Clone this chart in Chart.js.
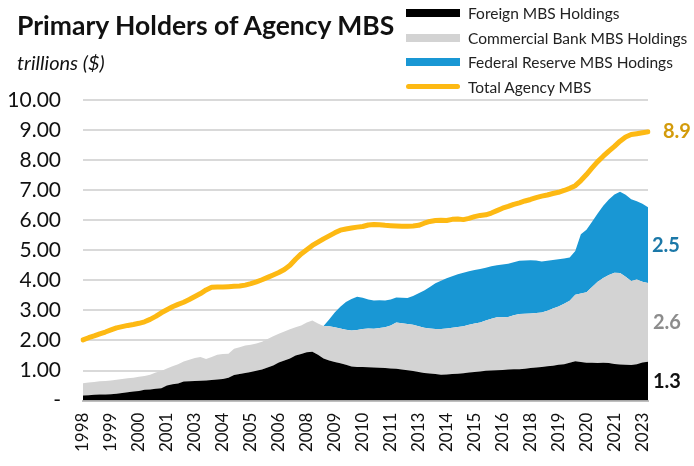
<!DOCTYPE html>
<html>
<head>
<meta charset="utf-8">
<script src="https://cdn.jsdelivr.net/npm/chart.js@4"></script>
<style>
  html, body { margin: 0; padding: 0; background: #fff; }
  #wrap { position: relative; width: 694px; height: 466px; font-family: Lato, sans-serif; color: #111; }
  #title { position: absolute; left: 17px; top: 9px; font-size: 26.5px; font-weight: 700; }
  #sub { position: absolute; left: 17px; top: 50px; font-size: 20px; font-style: italic; }
  #legend { position: absolute; left: 406px; top: 1px; font-size: 15.5px; color: #222; }
  .item { height: 24.5px; display: flex; align-items: center; }
  .sw { width: 54px; height: 8px; margin-right: 8px; }
  .ln { width: 54px; height: 5px; border-radius: 3px; margin-right: 8px; }
  canvas { position: absolute; left: 0; top: 0; }
</style>
</head>
<body>
<div id="wrap">
  <canvas id="c" width="694" height="466"></canvas>
  <div id="title">Primary Holders of Agency MBS</div>
  <div id="sub">trillions ($)</div>
  <div id="legend">
    <div class="item"><div class="sw" style="background:#000"></div>Foreign MBS Holdings</div>
    <div class="item"><div class="sw" style="background:#d3d3d3"></div>Commercial Bank MBS Holdings</div>
    <div class="item"><div class="sw" style="background:#1997d4"></div>Federal Reserve MBS Hodings</div>
    <div class="item"><div class="ln" style="background:#fdb913"></div>Total Agency MBS</div>
  </div>
</div>
<script>
// quarterly, 1998Q1 .. 2023Q2
const quarters = [];
for (let y = 1998; y <= 2023; y++) for (let q = 1; q <= 4; q++) quarters.push(y + "Q" + q);
quarters.length = 102;

const foreign = [0.17,0.18,0.19,0.20,0.20,0.21,0.23,0.25,0.28,0.30,
  0.32,0.36,0.37,0.39,0.41,0.50,0.54,0.57,0.63,0.64,
  0.65,0.66,0.67,0.68,0.70,0.72,0.76,0.85,0.88,0.92,
  0.95,0.99,1.03,1.10,1.17,1.27,1.33,1.40,1.50,1.55,
  1.61,1.62,1.52,1.40,1.33,1.28,1.24,1.19,1.13,1.12,
  1.12,1.11,1.10,1.09,1.08,1.07,1.06,1.03,1.01,0.98,
  0.95,0.92,0.90,0.88,0.86,0.87,0.88,0.89,0.91,0.93,
  0.95,0.97,0.99,1.00,1.01,1.02,1.03,1.04,1.04,1.06,
  1.08,1.10,1.12,1.14,1.16,1.19,1.21,1.26,1.31,1.28,
  1.26,1.26,1.25,1.26,1.25,1.22,1.20,1.19,1.18,1.21,
  1.27,1.29];

const bank = [0.41,0.42,0.43,0.44,0.45,0.46,0.46,0.47,0.46,0.46,
  0.47,0.46,0.49,0.54,0.57,0.57,0.60,0.64,0.67,0.72,
  0.77,0.79,0.71,0.77,0.82,0.83,0.80,0.87,0.89,0.91,
  0.91,0.91,0.93,0.95,0.97,0.95,0.97,0.97,0.94,0.95,
  0.99,1.04,1.04,1.08,1.14,1.16,1.16,1.17,1.20,1.23,
  1.26,1.29,1.29,1.32,1.36,1.43,1.54,1.54,1.54,1.54,
  1.52,1.50,1.50,1.50,1.52,1.53,1.54,1.56,1.56,1.59,
  1.61,1.63,1.67,1.72,1.76,1.75,1.75,1.80,1.84,1.83,
  1.82,1.81,1.81,1.85,1.90,1.94,2.01,2.06,2.21,2.28,
  2.34,2.52,2.70,2.82,2.93,3.03,3.04,2.93,2.80,2.82,
  2.68,2.62];

const fed = [0,0,0,0,0,0,0,0,0,0,
  0,0,0,0,0,0,0,0,0,0,
  0,0,0,0,0,0,0,0,0,0,
  0,0,0,0,0,0,0,0,0,0,
  0,0,0,0,0.23,0.49,0.72,0.92,1.05,1.10,
  1.04,0.96,0.94,0.93,0.89,0.86,0.83,0.85,0.86,0.96,
  1.10,1.24,1.38,1.52,1.61,1.67,1.72,1.75,1.78,1.78,
  1.78,1.78,1.76,1.75,1.73,1.76,1.77,1.76,1.77,1.77,
  1.77,1.75,1.70,1.66,1.62,1.57,1.51,1.44,1.46,1.97,
  2.08,2.17,2.27,2.40,2.51,2.61,2.71,2.73,2.72,2.60,
  2.60,2.52];

const total = [2.02,2.09,2.15,2.22,2.28,2.35,2.42,2.46,2.50,2.53,
  2.57,2.62,2.70,2.80,2.92,3.02,3.12,3.20,3.27,3.36,
  3.46,3.56,3.68,3.77,3.78,3.78,3.79,3.80,3.81,3.84,
  3.89,3.95,4.02,4.10,4.18,4.26,4.36,4.50,4.70,4.88,
  5.02,5.16,5.27,5.38,5.48,5.58,5.67,5.71,5.74,5.77,
  5.79,5.84,5.86,5.85,5.83,5.82,5.81,5.80,5.80,5.81,
  5.83,5.90,5.96,5.99,6.00,5.99,6.03,6.04,6.02,6.06,
  6.12,6.16,6.18,6.24,6.32,6.40,6.46,6.53,6.58,6.64,
  6.69,6.75,6.80,6.84,6.89,6.93,6.99,7.06,7.15,7.32,
  7.52,7.74,7.95,8.13,8.30,8.46,8.63,8.77,8.85,8.88,
  8.91,8.94];

const yTicks = [0,1,2,3,4,5,6,7,8,9,10];

// end-of-series value labels on the right
const endLabels = {
  id: "endLabels",
  afterDatasetsDraw(chart) {
    const y = chart.scales.y, ctx = chart.ctx, n = total.length - 1;
    const r = chart.chartArea.right;
    const f = foreign[n], b = bank[n], d = fed[n];
    const items = [
      [total[n].toFixed(1), total[n], "#d39b0b", r + 15],
      [d.toFixed(1), f + b + d / 2, "#1b78a8", r + 4],
      [b.toFixed(1), f + b / 2, "#8c8c8c", r + 5],
      [f.toFixed(1), f / 2, "#111", r + 5]
    ];
    ctx.save();
    ctx.font = "bold 20px Lato";
    ctx.textBaseline = "middle";
    for (const [t, v, c, x] of items) {
      ctx.fillStyle = c;
      ctx.fillText(t, x, y.getPixelForValue(v));
    }
    ctx.restore();
  }
};

new Chart(document.getElementById("c"), {
  type: "line",
  data: {
    labels: quarters,
    datasets: [
      { label: "Total Agency MBS", data: total, stack: "t", borderColor: "#fdb913",
        borderWidth: 5, borderCapStyle: "round", borderJoinStyle: "round", fill: false },
      { label: "Foreign MBS Holdings", data: foreign, stack: "s", borderWidth: 0,
        backgroundColor: "#000", fill: "origin" },
      { label: "Commercial Bank MBS Holdings", data: bank, stack: "s", borderWidth: 0,
        backgroundColor: "#d3d3d3", fill: "-1" },
      { label: "Federal Reserve MBS Hodings", data: fed, stack: "s", borderWidth: 0,
        backgroundColor: "#1997d4", fill: "-1" }
    ]
  },
  options: {
    responsive: false,
    animation: false,
    elements: { point: { radius: 0 }, line: { tension: 0 } },
    layout: { padding: { top: 100, right: 46, left: 8, bottom: 10 } },
    plugins: { legend: { display: false }, tooltip: { enabled: false } },
    scales: {
      x: {
        grid: { display: false },
        border: { color: "#bfbfbf", width: 2 },
        ticks: {
          autoSkip: false, maxRotation: 90, minRotation: 90, padding: 4,
          color: "#111", font: { family: "Lato", size: 17 },
          callback: (v, i) => i % 5 === 0 ? quarters[i].slice(0, 4) : null
        }
      },
      y: {
        stacked: true,
        min: 0, max: 10,
        afterBuildTicks: s => { s.ticks = yTicks.map(v => ({ value: v })); },
        afterFit: s => { s.width = 75; },
        border: { display: false },
        grid: { color: "#d9d9d9", lineWidth: 2, drawTicks: false },
        ticks: {
          padding: 22, color: "#111", font: { family: "Lato", size: 21 },
          callback: v => v === 0 ? "-" : v.toFixed(2)
        }
      }
    }
  },
  plugins: [endLabels]
});
</script>
</body>
</html>
